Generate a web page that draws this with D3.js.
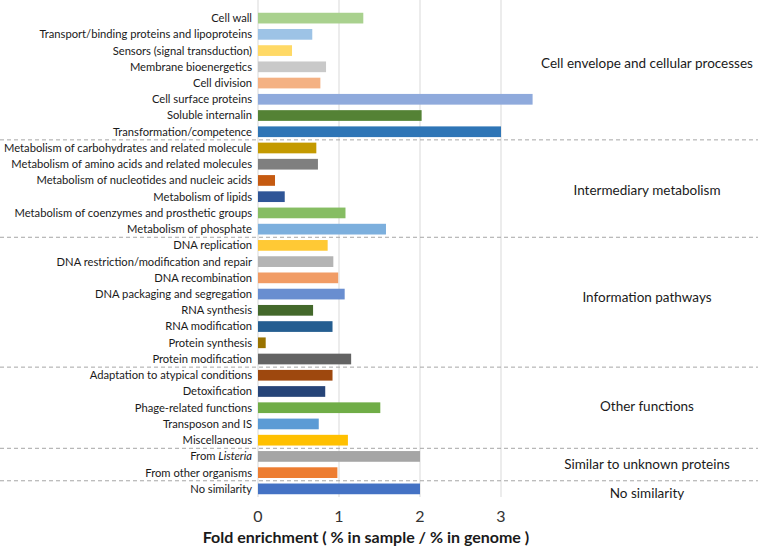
<!DOCTYPE html>
<html>
<head>
<meta charset="utf-8">
<script src="https://cdn.jsdelivr.net/npm/d3@7"></script>
<style>
  html, body { margin: 0; padding: 0; background: #fff; }
  text { font-family: Lato, "Open Sans", sans-serif; fill: #1a1a1a; }
</style>
</head>
<body>
<svg id="chart" width="758" height="555"></svg>
<script>
const categories = [
  "Cell wall",
  "Transport/binding proteins and lipoproteins",
  "Sensors (signal transduction)",
  "Membrane bioenergetics",
  "Cell division",
  "Cell surface proteins",
  "Soluble internalin",
  "Transformation/competence",
  "Metabolism of carbohydrates and related molecule",
  "Metabolism of amino acids and related molecules",
  "Metabolism of nucleotides and nucleic acids",
  "Metabolism of lipids",
  "Metabolism of coenzymes and prosthetic groups",
  "Metabolism of phosphate",
  "DNA replication",
  "DNA restriction/modification and repair",
  "DNA recombination",
  "DNA packaging and segregation",
  "RNA synthesis",
  "RNA modification",
  "Protein synthesis",
  "Protein modification",
  "Adaptation to atypical conditions",
  "Detoxification",
  "Phage-related functions",
  "Transposon and IS",
  "Miscellaneous",
  "From Listeria",
  "From other organisms",
  "No similarity"
];
const values = [
  1.30, 0.67, 0.42, 0.84, 0.77, 3.39, 2.02, 3.00,
  0.72, 0.74, 0.21, 0.33, 1.08, 1.58,
  0.86, 0.93, 0.99, 1.07, 0.68, 0.92, 0.095, 1.15,
  0.92, 0.83, 1.51, 0.75, 1.11,
  2.00, 0.98,
  2.00
];
const barColors = [
  "#a9d18e", "#9dc3e6", "#ffd966", "#c9c9c9", "#f4b183", "#8faadc", "#548235", "#2e75b6",
  "#c49a00", "#7f7f7f", "#c55a11", "#2f5597", "#86bd63", "#7cafdd",
  "#ffc935", "#b4b4b4", "#f19c65", "#698ed0", "#43682b", "#255e91", "#997300", "#636363",
  "#9e480e", "#264478", "#70ad47", "#5b9bd5", "#ffc000",
  "#a5a5a5", "#ed7d31",
  "#4472c4"
];
const groupNames = [
  "Cell envelope and cellular processes",
  "Intermediary metabolism",
  "Information pathways",
  "Other functions",
  "Similar to unknown proteins",
  "No similarity"
];
const groupSizes = [8, 6, 8, 5, 2, 1];
const tickValues = [0, 1, 2, 3];
const axisTitle = "Fold enrichment ( % in sample / % in genome )";

const svg = d3.select("#chart");

const y = d3.scaleBand().domain(categories).range([10, 497]).paddingInner(0.34).paddingOuter(0.17);
const x = d3.scaleLinear().domain([0, 4]).range([258, 582]);

// gridlines
svg.append("g").selectAll("line").data(tickValues).join("line")
  .attr("x1", d => x(d)).attr("x2", d => x(d))
  .attr("y1", 0).attr("y2", 497)
  .attr("stroke", "#d9d9d9").attr("stroke-width", 1);

// bars
svg.append("g").selectAll("rect").data(categories).join("rect")
  .attr("x", x(0))
  .attr("y", d => y(d))
  .attr("width", (d, i) => x(values[i]) - x(0))
  .attr("height", y.bandwidth())
  .attr("fill", (d, i) => barColors[i]);

// category labels
const lab = svg.append("g").selectAll("text").data(categories).join("text")
  .attr("x", 252)
  .attr("y", d => y(d) + y.bandwidth() / 2)
  .attr("dy", "0.35em")
  .attr("text-anchor", "end")
  .style("font-size", "11.2px");
lab.each(function(d) {
  const t = d3.select(this);
  if (d === "From Listeria") {
    t.append("tspan").text("From ");
    t.append("tspan").style("font-style", "italic").text("Listeria");
  } else {
    t.text(d);
  }
});

// group separators and labels (label vertical nudges mimic the reference placement)
const labelShift = [-12, 2, -5, -1, 0, 4];
const step = y.step();
let start = 0;
groupSizes.forEach((n, gi) => {
  const first = categories[start];
  const last = categories[start + n - 1];
  const top = y(first) - (step - y.bandwidth()) / 2;
  const bottom = y(last) + y.bandwidth() + (step - y.bandwidth()) / 2;
  if (gi < groupSizes.length - 1) {
    svg.append("line")
      .attr("x1", 0).attr("x2", 758)
      .attr("y1", bottom).attr("y2", bottom)
      .attr("stroke", "#a6a6a6").attr("stroke-width", 1)
      .attr("stroke-dasharray", "4,3");
  }
  svg.append("text")
    .attr("x", 647)
    .attr("y", (top + bottom) / 2 + labelShift[gi])
    .attr("dy", "0.35em")
    .attr("text-anchor", "middle")
    .style("font-size", "13.5px")
    .text(groupNames[gi]);
  start += n;
});

// axis tick labels
svg.append("g").selectAll("text").data(tickValues).join("text")
  .attr("x", d => x(d))
  .attr("y", 516)
  .attr("dy", "0.35em")
  .attr("text-anchor", "middle")
  .style("font-size", "16px")
  .style("fill", "#333")
  .text(d => d);

// axis title
svg.append("text")
  .attr("x", 366)
  .attr("y", 543)
  .attr("text-anchor", "middle")
  .style("font-size", "16px")
  .style("font-weight", "bold")
  .text(axisTitle);
</script>
</body>
</html>
